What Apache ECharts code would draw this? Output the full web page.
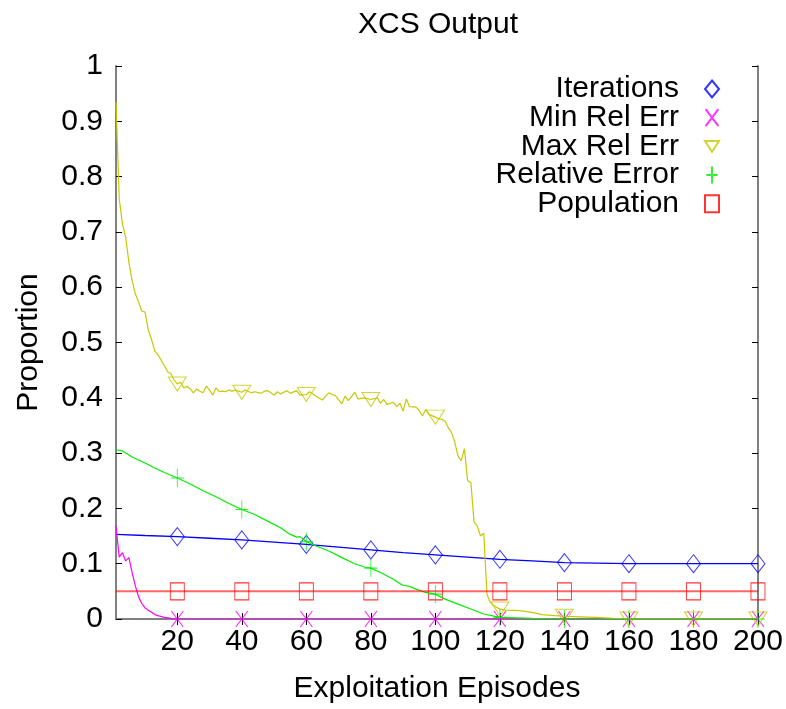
<!DOCTYPE html>
<html>
<head>
<meta charset="utf-8">
<script src="https://cdn.jsdelivr.net/npm/echarts@6/dist/echarts.min.js"></script>
<style>
  html, body { margin: 0; padding: 0; background: #fff; }
  #main { width: 786px; height: 709px; }
</style>
</head>
<body>
<div id="main"></div>
<script>
// x tick labels
const xTicks = [20, 40, 60, 80, 100, 120, 140, 160, 180, 200];

// Iterations
const iterX = [1, 10, 20, 30, 40, 50, 60, 70, 80, 90, 100, 110, 120, 130, 140, 150, 160, 170, 180, 190, 200];
const iterY = [0.153, 0.151, 0.149, 0.146, 0.143, 0.139, 0.135, 0.130, 0.125, 0.120, 0.116, 0.112, 0.108, 0.105, 0.102, 0.101, 0.100, 0.100, 0.100, 0.100, 0.100];

// Min Rel Err
const minX = [1, 2, 3, 4, 5, 6, 7, 8, 9, 10, 11, 12, 13, 14, 16, 18, 20, 40, 60, 80, 100, 120, 140, 160, 180, 200];
const minY = [0.168, 0.112, 0.120, 0.105, 0.111, 0.084, 0.060, 0.040, 0.028, 0.020, 0.016, 0.012, 0.008, 0.006, 0.003, 0.001, 0, 0, 0, 0, 0, 0, 0, 0, 0, 0];

// Max Rel Err
const maxX = [1, 2, 3, 4, 5, 6, 7, 8, 9, 10, 11, 12, 13, 14, 15, 16, 17, 18, 19, 20,
  21, 22, 23, 24, 25, 26, 27, 28, 29, 30, 31, 32, 33, 34, 35, 36, 37, 38, 40,
  41, 43, 44, 46, 47, 48, 50, 51, 52, 54, 55, 57, 58, 60,
  61, 63, 65, 66, 67, 68, 69, 71, 72, 73, 75, 76, 78, 80,
  82, 83, 84, 85, 87, 88, 89, 90, 91, 92, 94, 95, 96, 97, 98, 100,
  101, 102, 103, 104, 105, 106, 107, 108, 109, 110, 111, 112, 113, 114, 115, 116, 117, 118, 119, 120,
  122, 126, 130, 133, 137, 140, 145, 150, 155, 160, 180, 200];
const maxY = [0.935, 0.760, 0.715, 0.690, 0.645, 0.612, 0.588, 0.573, 0.557, 0.555, 0.523, 0.506, 0.485, 0.478, 0.468, 0.458, 0.447, 0.444, 0.432, 0.425,
  0.428, 0.418, 0.421, 0.416, 0.409, 0.416, 0.412, 0.409, 0.421, 0.414, 0.405, 0.418, 0.411, 0.412, 0.411, 0.414, 0.412, 0.414, 0.410,
  0.414, 0.409, 0.411, 0.408, 0.412, 0.413, 0.405, 0.411, 0.407, 0.413, 0.408, 0.413, 0.405, 0.406,
  0.411, 0.403, 0.396, 0.403, 0.409, 0.406, 0.404, 0.389, 0.403, 0.395, 0.410, 0.398, 0.400, 0.397,
  0.400, 0.390, 0.397, 0.388, 0.392, 0.384, 0.390, 0.376, 0.398, 0.384, 0.383, 0.377, 0.367, 0.379, 0.370, 0.365,
  0.362, 0.361, 0.358, 0.346, 0.337, 0.320, 0.295, 0.286, 0.308, 0.250, 0.247, 0.175, 0.168, 0.150, 0.155, 0.045, 0.030, 0.025, 0.021, 0.018,
  0.016, 0.015, 0.012, 0.008, 0.006, 0.005, 0.004, 0.003, 0.001, 0, 0, 0];

// Relative Error
const relX = [1, 3, 4, 6, 10, 13, 16, 20, 24, 28, 32, 36, 40, 44, 48, 52, 55, 57, 58, 60,
  63, 67, 71, 75, 78, 80, 83, 87, 89, 90, 92, 94, 97, 100, 103, 107, 111, 115, 120, 130, 140, 160, 180, 200];
const relY = [0.306, 0.304, 0.300, 0.293, 0.282, 0.273, 0.265, 0.255, 0.244, 0.232, 0.221, 0.209, 0.198, 0.189, 0.177, 0.165, 0.153, 0.148, 0.149, 0.140,
  0.132, 0.123, 0.111, 0.100, 0.094, 0.092, 0.084, 0.072, 0.064, 0.061, 0.059, 0.054, 0.048, 0.045, 0.036, 0.027, 0.018, 0.009, 0.003, 0.001, 0, 0, 0, 0];

// Population
const popX = [1, 20, 40, 60, 80, 100, 120, 140, 160, 180, 200];
const popY = [0.05, 0.05, 0.05, 0.05, 0.05, 0.05, 0.05, 0.05, 0.05, 0.05, 0.05];

const font = "'Liberation Sans', Arial, Helvetica, sans-serif";

function pairs(xs, ys) {
  return xs.map((x, i) => [x, ys[i]]);
}
function marks(xs, ys) {
  return pairs(xs, ys).filter(p => xTicks.indexOf(p[0]) >= 0);
}

const defs = [
  { name: "Iterations", xs: iterX, ys: iterY, color: "#0000ff", width: 1.3,
    symbol: "diamond", size: [14, 18] },
  { name: "Min Rel Err", xs: minX, ys: minY, color: "#ff00ff", width: 1.2,
    symbol: "path://M0,0L12,16M12,0L0,16", size: [12, 16] },
  { name: "Max Rel Err", xs: maxX, ys: maxY, color: "#c8c800", width: 1.2,
    symbol: "path://M0,0L18,0L9,14Z", size: [18, 14] },
  { name: "Relative Error", xs: relX, ys: relY, color: "#00ee00", width: 1.2,
    symbol: "path://M6,0L6,18M0,9L12,9", size: [13, 18] },
  { name: "Population", xs: popX, ys: popY, color: "#ff0000", width: 2, opacity: 0.6,
    symbol: "rect", size: [14, 17] },
];

const series = [];
defs.forEach(d => {
  series.push({
    name: d.name + " line",
    type: "line",
    data: pairs(d.xs, d.ys),
    showSymbol: false,
    symbol: "none",
    lineStyle: { color: d.color, width: d.width, opacity: d.opacity || 1 },
    silent: true,
  });
  series.push({
    name: d.name,
    type: "scatter",
    data: marks(d.xs, d.ys),
    symbol: d.symbol,
    symbolSize: d.size,
    itemStyle: { color: "rgba(255,255,255,0)", borderColor: d.color, borderWidth: 1 },
    silent: true,
  });
});

const chart = echarts.init(document.getElementById("main"));
chart.setOption({
  animation: false,
  backgroundColor: "#fff",
  title: {
    text: "XCS Output",
    left: 358,
    top: 10,
    padding: 0,
    textStyle: { fontFamily: font, fontSize: 30, fontWeight: "normal", color: "#000" },
  },
  legend: {
    orient: "vertical",
    data: defs.map(d => d.name),
    right: 66,
    top: 74,
    padding: 0,
    align: "right",
    itemWidth: 14,
    itemHeight: 17,
    itemGap: -1.3,
    textStyle: { fontFamily: font, fontSize: 30, color: "#000", padding: [0, 21, 0, 0] },
    selectedMode: false,
  },
  grid: { left: 116, right: 28, top: 66, bottom: 89 },
  xAxis: [
    {
      type: "value",
      min: 1,
      max: 200,
      name: "Exploitation Episodes",
      nameLocation: "middle",
      nameGap: 55,
      nameTextStyle: { fontFamily: font, fontSize: 30, color: "#000" },
      axisLine: { lineStyle: { color: "#808080", width: 2 } },
      axisTick: { inside: true, length: 6, customValues: xTicks, lineStyle: { color: "#000" } },
      axisLabel: { customValues: xTicks, margin: 8, fontFamily: font, fontSize: 30, color: "#000" },
      splitLine: { show: false },
    },
    {
      type: "value",
      position: "top",
      min: 1,
      max: 200,
      axisLine: { lineStyle: { color: "#808080", width: 2 } },
      axisTick: { inside: true, length: 6, customValues: xTicks, lineStyle: { color: "#000" } },
      axisLabel: { show: false },
      splitLine: { show: false },
    },
  ],
  yAxis: [
    {
      type: "value",
      min: 0,
      max: 1,
      interval: 0.1,
      name: "Proportion",
      nameLocation: "middle",
      nameGap: 72,
      nameTextStyle: { fontFamily: font, fontSize: 30, color: "#000" },
      axisLine: { show: true, lineStyle: { color: "#808080", width: 2 } },
      axisTick: { show: true, inside: true, length: 6, lineStyle: { color: "#000" } },
      axisLabel: { margin: 13, fontFamily: font, fontSize: 30, color: "#000" },
      splitLine: { show: false },
    },
    {
      type: "value",
      position: "right",
      min: 0,
      max: 1,
      interval: 0.1,
      axisLine: { show: true, lineStyle: { color: "#808080", width: 2 } },
      axisTick: { show: true, inside: true, length: 6, lineStyle: { color: "#000" } },
      axisLabel: { show: false },
      splitLine: { show: false },
    },
  ],
  series: series,
});
</script>
</body>
</html>
